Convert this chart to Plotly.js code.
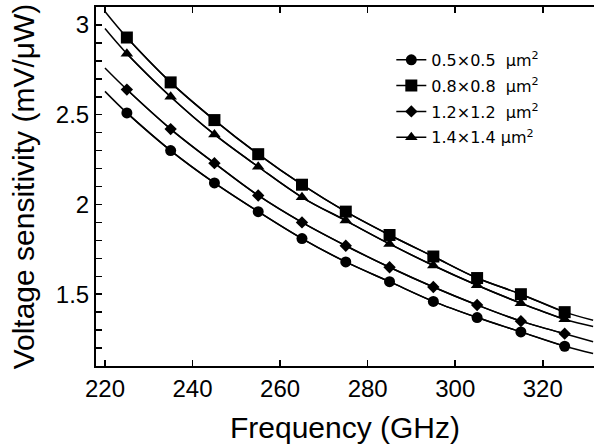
<!DOCTYPE html>
<html>
<head>
<meta charset="utf-8">
<script src="https://cdn.plot.ly/plotly-3.0.1.min.js"></script>
<style>html,body{margin:0;padding:0;background:#fff;}#chart{width:594px;height:445px;}</style>
</head>
<body>
<div id="chart"></div>
<script>
// Frequencies of measured points (GHz)
var freq = [225, 235, 245, 255, 265, 275, 285, 295, 305, 315, 325];
// Voltage sensitivity (mV/uW) per device size
var s05 = [2.51, 2.30, 2.12, 1.96, 1.81, 1.68, 1.57, 1.46, 1.37, 1.29, 1.21];
var s08 = [2.93, 2.68, 2.47, 2.28, 2.11, 1.96, 1.83, 1.71, 1.59, 1.50, 1.40];
var s12 = [2.64, 2.42, 2.23, 2.05, 1.90, 1.77, 1.65, 1.54, 1.44, 1.35, 1.28];
var s14 = [2.84, 2.60, 2.39, 2.21, 2.04, 1.91, 1.78, 1.66, 1.55, 1.45, 1.36];
// Fitted curve end values (at 220 GHz and the right edge)
var fitStartX = 220, fitEndX = 331.5;
var fitStart = [2.63, 3.075, 2.76, 2.98];
var fitEnd = [1.17, 1.355, 1.235, 1.32];
var names = ['0.5×0.5\u00a0 μm<sup>2</sup>', '0.8×0.8\u00a0 μm<sup>2</sup>', '1.2×1.2\u00a0 μm<sup>2</sup>', '1.4×1.4 μm<sup>2</sup>'];
var series = [s05, s08, s12, s14];
var symbols = ['circle', 'square', 'diamond', 'triangle-up'];
var sizes = [11, 12, 9.5, 11];

var traces = [];
series.forEach(function (vals, i) {
  traces.push({
    x: [fitStartX].concat(freq, [fitEndX]),
    y: [fitStart[i]].concat(vals, [fitEnd[i]]),
    mode: 'lines', type: 'scatter', showlegend: false, hoverinfo: 'skip',
    legendgroup: 'g' + i,
    line: {color: '#000', width: 1.5, shape: 'spline', smoothing: 1}
  });
});
series.forEach(function (vals, i) {
  traces.push({
    x: freq, y: vals, name: names[i], legendgroup: 'g' + i,
    mode: 'lines+markers', type: 'scatter',
    line: {color: '#000', width: 1.5, shape: 'spline', smoothing: 1},
    marker: {symbol: symbols[i], size: sizes[i], color: '#000'}
  });
});

var layout = {
  width: 594, height: 445,
  margin: {l: 96, r: 0, t: 7, b: 79, pad: 0},
  paper_bgcolor: '#fff', plot_bgcolor: '#fff',
  showlegend: true,
  legend: {
    x: 0.593, y: 0.90, xanchor: 'left', yanchor: 'top',
    bgcolor: 'rgba(0,0,0,0)', borderwidth: 0,
    font: {family: 'DejaVu Sans', size: 16, color: '#000'},
    traceorder: 'grouped', tracegroupgap: 2
  },
  xaxis: {
    range: [217.95, 331.7], tickvals: [220, 240, 260, 280, 300, 320],
    ticks: 'inside', ticklen: 6, tickwidth: 1.5, tickcolor: '#000',
    showline: true, linecolor: '#000', linewidth: 2, mirror: 'ticks',
    showgrid: false, zeroline: false,
    tickfont: {family: 'Liberation Sans, Arial', size: 24, color: '#000'},
    title: {text: 'Frequency (GHz)', font: {family: 'Liberation Sans, Arial', size: 30, color: '#000'}, standoff: 16}
  },
  yaxis: {
    range: [1.1, 3.1], tickvals: [1.5, 2, 2.5, 3], ticktext: ['1.5', '2', '2.5', '3'],
    ticks: 'inside', ticklen: 6, tickwidth: 1.5, tickcolor: '#000',
    minor: {tickvals: [1.2, 1.3, 1.4, 1.6, 1.7, 1.8, 1.9, 2.1, 2.2, 2.3, 2.4, 2.6, 2.7, 2.8, 2.9, 3.0], ticks: 'inside', ticklen: 6, tickwidth: 1.5, tickcolor: '#000'},
    showline: true, linecolor: '#000', linewidth: 2, mirror: false,
    showgrid: false, zeroline: false,
    tickfont: {family: 'Liberation Sans, Arial', size: 24, color: '#000'},
    title: {text: 'Voltage sensitivity (mV/μW)', font: {family: 'Liberation Sans, Arial', size: 30, color: '#000'}, standoff: 12}
  }
};
Plotly.newPlot('chart', traces, layout, {displayModeBar: false, staticPlot: true});
</script>
</body>
</html>
